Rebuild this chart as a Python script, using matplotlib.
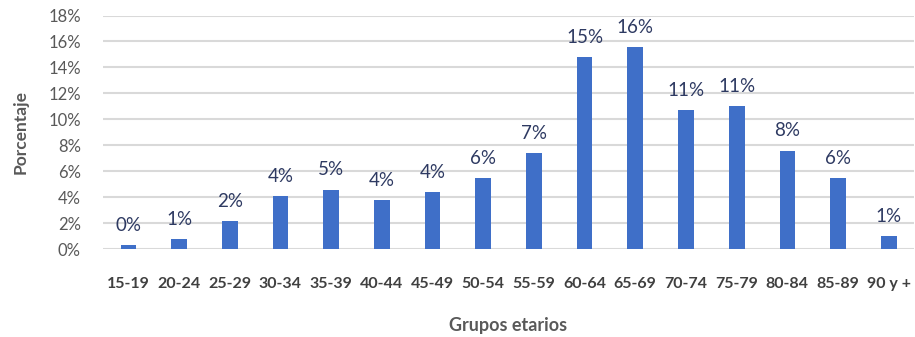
import matplotlib.pyplot as plt
from matplotlib.ticker import FuncFormatter

# Datos
grupos = ['15-19', '20-24', '25-29', '30-34', '35-39', '40-44', '45-49', '50-54',
          '55-59', '60-64', '65-69', '70-74', '75-79', '80-84', '85-89', '90 y +']
porcentaje = [0.3, 0.8, 2.2, 4.1, 4.6, 3.8, 4.4, 5.5,
              7.4, 14.8, 15.6, 10.7, 11.0, 7.6, 5.5, 1.0]
etiquetas = ['0%', '1%', '2%', '4%', '5%', '4%', '4%', '6%',
             '7%', '15%', '16%', '11%', '11%', '8%', '6%', '1%']

plt.rcParams['font.family'] = ['Lato', 'DejaVu Sans']

fig = plt.figure(figsize=(9.15, 3.37), dpi=100)
ax = fig.add_axes([0.1126, 0.2602, 0.8864, 0.6938])

x = range(len(grupos))
ax.bar(x, porcentaje, width=0.31, color='#3F6FC8', zorder=3)

for i, v in enumerate(porcentaje):
    ax.annotate(etiquetas[i], (i, v), xytext=(0, 8), textcoords='offset points',
                ha='center', va='bottom', fontsize=13.5, color='#2E3A62')

ax.set_ylim(0, 18)
ax.set_xlim(-0.5, len(grupos) - 0.5)
ax.set_yticks(range(0, 19, 2))
ax.yaxis.set_major_formatter(FuncFormatter(lambda v, p: f'{v:.0f}%'))
ax.set_xticks(list(x))
ax.set_xticklabels(grupos, fontsize=11.5, fontweight='bold', color='#404040')
ax.tick_params(axis='x', length=0, pad=20)
ax.tick_params(axis='y', length=0, pad=16, labelsize=12, labelcolor='#595959')

ax.grid(axis='y', color='#D9D9D9', linewidth=1.5, zorder=0)
for s in ax.spines.values():
    s.set_visible(False)

ax.set_ylabel('Porcentaje', fontsize=12.5, fontweight='bold', color='#595959', va='center')
ax.yaxis.set_label_coords(-0.102, 0.5)
ax.set_xlabel('Grupos etarios', fontsize=13, fontweight='bold', color='#595959', va='center')
ax.xaxis.set_label_coords(0.5, -0.325)

plt.savefig('out.png', dpi=100)
